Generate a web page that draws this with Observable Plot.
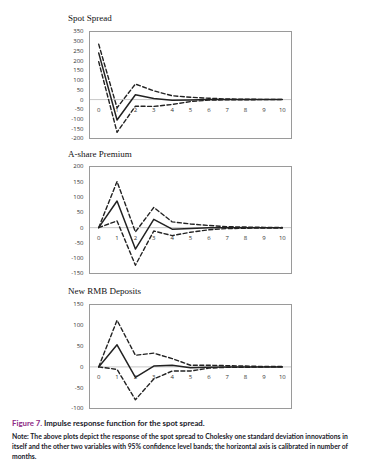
<!DOCTYPE html>
<html><head><meta charset="utf-8">
<script src="https://cdn.jsdelivr.net/npm/d3@7"></script>
<script src="https://cdn.jsdelivr.net/npm/@observablehq/plot@0.6"></script>
<style>
body{margin:0;background:#fff;width:375px;height:469px;position:relative;overflow:hidden}
.t{position:absolute;font-family:"Liberation Serif",serif;font-size:9px;color:#111}
.p{position:absolute;left:0}
.cap{position:absolute;left:12px;font-family:Lato,"Open Sans",sans-serif;font-weight:bold;color:#1a1a2a;white-space:nowrap}
</style></head><body>
<div class="t" style="left:68px;top:13px">Spot Spread</div>
<div class="p" id="p1" style="top:25px"></div>
<div class="t" style="left:68px;top:149px">A-share Premium</div>
<div class="p" id="p2" style="top:160px"></div>
<div class="t" style="left:68px;top:286px">New RMB Deposits</div>
<div class="p" id="p3" style="top:298px"></div>
<div class="cap" style="top:418px;font-size:7.8px"><span style="color:#8e2a86">Figure 7.</span> Impulse response function for the spot spread.</div>
<div class="cap" style="top:431px;font-size:6.8px;line-height:10px">Note: The above plots depict the response of the spot spread to Cholesky one standard deviation innovations in<br>itself and the other two variables with 95% confidence level bands; the horizontal axis is calibrated in number of<br>months.</div>
<script>
const months = [0,1,2,3,4,5,6,7,8,9,10];

const spotMid   = [240,-105,25,6,-3,-2,0,0,0,0,0];
const spotUp    = [285,-42,80,45,20,12,7,3,2,1,1];
const spotLo    = [195,-168,-34,-35,-25,-10,-3,-1,-1,0,0];
const spotTicks = [350,300,250,200,150,100,50,0,-50,-100,-150,-200];

const ashMid    = [0,87,-70,27,-5,-3,0,0,0,0,0];
const ashUp     = [0,151,-14,66,19,12,7,3,2,1,1];
const ashLo     = [0,22,-123,-11,-26,-15,-7,-3,-2,-1,-1];
const ashTicks  = [200,150,100,50,0,-50,-100,-150];

const rmbMid    = [0,53,-25,2,4,-2,-1,0,0,0,0];
const rmbUp     = [0,112,28,33,20,4,4,3,2,1,1];
const rmbLo     = [0,-6,-79,-29,-10,-10,-3,-1,-1,0,0];
const rmbTicks  = [150,100,50,0,-50,-100];

function panel(id, mid, up, lo, ticks, innerH){
  const rows = k => months.map((m,i)=>({m, v:k[i]}));
  const mt = 6, mb = 4;
  const chart = Plot.plot({
    width: 300, height: innerH + mt + mb,
    marginLeft: 89, marginRight: 9, marginTop: mt, marginBottom: mb,
    style: {fontFamily: "'Open Sans', sans-serif", background: "transparent"},
    x: {domain: [-0.5, 10.5], axis: null},
    y: {domain: [d3.min(ticks), d3.max(ticks)], label: null},
    marks: [
      Plot.ruleY([0], {stroke: "#c8c8c8", strokeWidth: 1}),
      Plot.axisY({ticks, label: null, tickSize: 0, tickPadding: 6, fontSize: 6, fill: "#333", tickFormat: d => String(d)}),
      Plot.text(months, {x: d => d, y: 0, dy: 10, text: d => String(d), fontSize: 6, fill: "#333"}),
      Plot.line(rows(up), {x: "m", y: "v", stroke: "#222", strokeWidth: 1.4, strokeDasharray: "4,2.5"}),
      Plot.line(rows(lo), {x: "m", y: "v", stroke: "#222", strokeWidth: 1.4, strokeDasharray: "4,2.5"}),
      Plot.line(rows(mid), {x: "m", y: "v", stroke: "#222", strokeWidth: 1.5}),
      Plot.frame({stroke: "#9a9a9a", strokeWidth: 1})
    ]
  });
  document.getElementById(id).appendChild(chart);
}
panel("p1", spotMid, spotUp, spotLo, spotTicks, 107);
panel("p2", ashMid, ashUp, ashLo, ashTicks, 107);
panel("p3", rmbMid, rmbUp, rmbLo, rmbTicks, 104);
</script>
</body></html>
